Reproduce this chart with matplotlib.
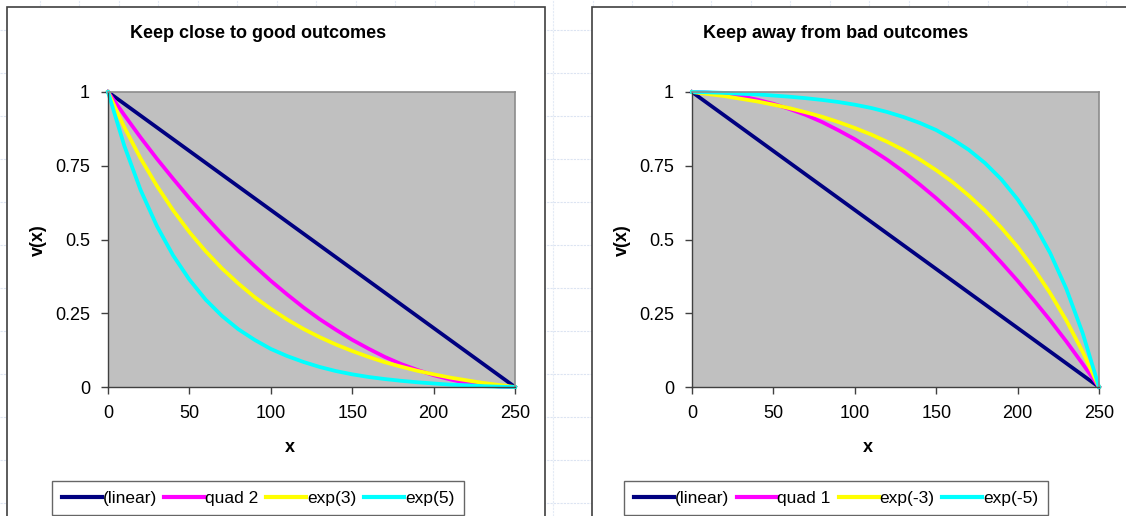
import matplotlib.pyplot as plt
from matplotlib.patches import Rectangle
from matplotlib.lines import Line2D

plt.rcParams['font.family'] = ['Liberation Sans', 'DejaVu Sans']

# data (x step 10)
x = [0, 10, 20, 30, 40, 50, 60, 70, 80, 90, 100, 110, 120, 130, 140, 150,
     160, 170, 180, 190, 200, 210, 220, 230, 240, 250]

linear = [1, .96, .92, .88, .84, .80, .76, .72, .68, .64, .60, .56, .52, .48,
          .44, .40, .36, .32, .28, .24, .20, .16, .12, .08, .04, 0]

quad2 = [1, .922, .846, .774, .706, .640, .578, .518, .462, .410, .360, .314,
         .270, .230, .194, .160, .130, .102, .078, .058, .040, .026, .014,
         .006, .002, 0]
exp3 = [1, .881, .775, .682, .599, .525, .460, .402, .351, .305, .265, .229,
        .197, .169, .144, .122, .102, .084, .069, .055, .043, .032, .023,
        .014, .007, 0]
exp5 = [1, .818, .668, .546, .446, .364, .296, .241, .196, .160, .129, .105,
        .085, .068, .054, .043, .034, .027, .021, .016, .012, .008, .006,
        .003, .001, 0]

quad1 = [1, .998, .994, .986, .974, .960, .942, .922, .898, .870, .840, .806,
         .770, .730, .686, .640, .590, .538, .482, .422, .360, .294, .226,
         .154, .078, 0]
exp_m3 = [1, .993, .986, .977, .968, .957, .945, .931, .916, .898, .878, .856,
          .831, .803, .771, .735, .695, .649, .598, .540, .475, .401, .318,
          .225, .119, 0]
exp_m5 = [1, .999, .997, .994, .992, .988, .984, .979, .973, .966, .957, .946,
          .932, .915, .895, .871, .840, .804, .759, .704, .636, .554, .454,
          .332, .182, 0]

left_series = [("(linear)", linear), ("quad 2", quad2), ("exp(3)", exp3), ("exp(5)", exp5)]
right_series = [("(linear)", linear), ("quad 1", quad1), ("exp(-3)", exp_m3), ("exp(-5)", exp_m5)]
colors = ['#000080', '#FF00FF', '#FFFF00', '#00FFFF']

W, H = 1126, 516
fig = plt.figure(figsize=(W / 100, H / 100), dpi=100)
fig.patch.set_facecolor('white')

# faint spreadsheet grid behind the charts
for gy in range(30, 516, 43):
    fig.add_artist(Line2D([0, 1], [1 - gy / H] * 2, color='#dce4f2', lw=0.8,
                          ls=(0, (2, 1)), transform=fig.transFigure, zorder=-3))
gx = 39.5
while gx < W:
    fig.add_artist(Line2D([gx / W] * 2, [0, 1], color='#e4ebf6', lw=0.8,
                          ls=(0, (2, 1)), transform=fig.transFigure, zorder=-3))
    gx += 39.5

# chart boxes
fig.add_artist(Rectangle((7 / W, -0.02), (545 - 7) / W, 1 - 7 / H + 0.02,
                         transform=fig.transFigure, facecolor='white',
                         edgecolor='#404040', lw=1.2, zorder=-2))
fig.add_artist(Rectangle((592 / W, -0.02), (1130 - 592) / W, 1 - 7 / H + 0.02,
                         transform=fig.transFigure, facecolor='white',
                         edgecolor='#404040', lw=1.2, zorder=-2))


def draw(left_px, title, series, cx):
    ax = fig.add_axes([left_px / W, 1 - 387 / H, 407 / W, 295 / H])
    ax.set_facecolor('#C0C0C0')
    for (lab, ys), c in zip(series, colors):
        ax.plot(x, ys, color=c, lw=2.7, label=lab, solid_joinstyle='round',
                clip_on=False)
    ax.set_xlim(0, 250)
    ax.set_ylim(0, 1)
    ax.set_xticks([0, 50, 100, 150, 200, 250])
    ax.set_yticks([0, 0.25, 0.5, 0.75, 1])
    ax.set_yticklabels(['0', '0.25', '0.5', '0.75', '1'])
    ax.tick_params(direction='out', length=5, width=1, color='#404040',
                   labelsize=13, pad=8)
    for s in ['left', 'bottom']:
        ax.spines[s].set_color('#404040')
        ax.spines[s].set_linewidth(1)
    for s in ['top', 'right']:
        ax.spines[s].set_color('#8c8c8c')
        ax.spines[s].set_linewidth(1.2)
    fig.text(cx / W, 1 - 34 / H, title, ha='center', va='center',
             fontsize=13, fontweight='bold')
    fig.text(cx / W + 32 / W, 1 - 448 / H, 'x', ha='center', va='center',
             fontsize=13, fontweight='bold')
    fig.text((left_px - 70) / W, 1 - 240 / H, 'v(x)', ha='center', va='center',
             rotation=90, fontsize=13, fontweight='bold')
    leg = ax.legend(loc='center', bbox_to_anchor=((cx - left_px) / 407, (387 - 498) / 295),
                    ncol=4, frameon=True, fontsize=12.5, handlelength=2.3,
                    handletextpad=0.05, columnspacing=0.45, borderpad=0.55,
                    fancybox=False, edgecolor='#404040')
    leg.get_frame().set_linewidth(1)
    for ln in leg.get_lines():
        ln.set_linewidth(3)
    return ax


draw(108, "Keep close to good outcomes", left_series, 258)
draw(692, "Keep away from bad outcomes", right_series, 836)

fig.savefig('out.png', dpi=100)
